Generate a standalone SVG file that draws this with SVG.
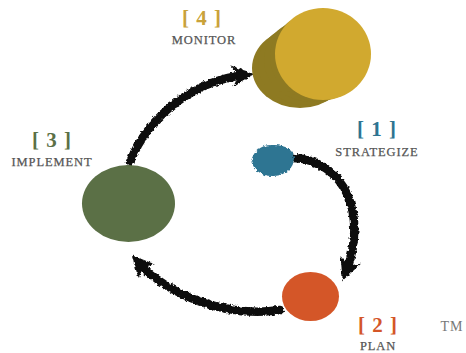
<svg xmlns="http://www.w3.org/2000/svg" width="466" height="353" viewBox="0 0 466 353">
<style>
.num{font-family:"Liberation Serif",serif;font-weight:bold;font-size:21px;text-anchor:middle;letter-spacing:1px}
.lbl{font-family:"Liberation Serif",serif;font-size:12.5px;fill:#555;text-anchor:middle;letter-spacing:0.9px;stroke:#555;stroke-width:0.25}
.arr{fill:none;stroke:#111;stroke-width:8.5;stroke-linecap:round}
</style>
<defs>
<marker id="ah" markerUnits="userSpaceOnUse" markerWidth="26" markerHeight="26" refX="15" refY="13" orient="auto" viewBox="0 0 26 26">
<path d="M2,2 L24,13 L2,24 L8,13 z" fill="#111"/>
</marker>
<filter id="rough" x="-20%" y="-20%" width="140%" height="140%">
<feTurbulence type="fractalNoise" baseFrequency="0.35" numOctaves="2" seed="3"/>
<feDisplacementMap in="SourceGraphic" scale="4" xChannelSelector="R" yChannelSelector="G"/>
</filter>
</defs>
<rect width="466" height="353" fill="#fff"/>
<g id="connectors" filter="url(#rough)">
<path class="arr" d="M293,158 C345,160 368,215 346,272" marker-end="url(#ah)"/>
<path class="arr" d="M280,310 C225,318 168,295 138,262" marker-end="url(#ah)"/>
<path class="arr" d="M130,162 C150,112 198,80 245,75" marker-end="url(#ah)"/>
</g>
<g id="monitor">
<g fill="#8e7a22">
<ellipse cx="300" cy="68" rx="48" ry="40"/>
<ellipse cx="306" cy="64" rx="48" ry="41"/>
<ellipse cx="312" cy="60" rx="48" ry="42"/>
<ellipse cx="318" cy="57" rx="48" ry="44"/>
</g>
<ellipse cx="323" cy="54" rx="48" ry="46" fill="#d1a92f"/>
<text class="num" x="202" y="25" fill="#c9a23a">[ 4 ]</text>
<text class="lbl" x="204" y="44">MONITOR</text>
</g>
<g id="implement">
<ellipse cx="128.5" cy="203.5" rx="46.5" ry="38.5" fill="#5b7046"/>
<text class="num" x="52" y="147" fill="#5b7046">[ 3 ]</text>
<text class="lbl" x="52" y="166">IMPLEMENT</text>
</g>
<g id="strategize">
<path filter="url(#rough)" d="M251,161 C254,150 262,144 274,145 C286,145 293,150 294,158 C294,168 286,175 274,176 C262,177 254,170 251,161 z" fill="#2e7492"/>
<text class="num" x="377" y="136" fill="#2e7492">[ 1 ]</text>
<text class="lbl" x="377" y="156">STRATEGIZE</text>
</g>
<g id="plan">
<ellipse cx="310.5" cy="296.5" rx="28.5" ry="24.5" fill="#d45628"/>
<text class="num" x="378" y="332" fill="#d45628">[ 2 ]</text>
<text class="lbl" x="378" y="350">PLAN</text>
<text class="lbl" x="452" y="331" style="font-size:14px;stroke:none;fill:#777">TM</text>
</g>
</svg>
